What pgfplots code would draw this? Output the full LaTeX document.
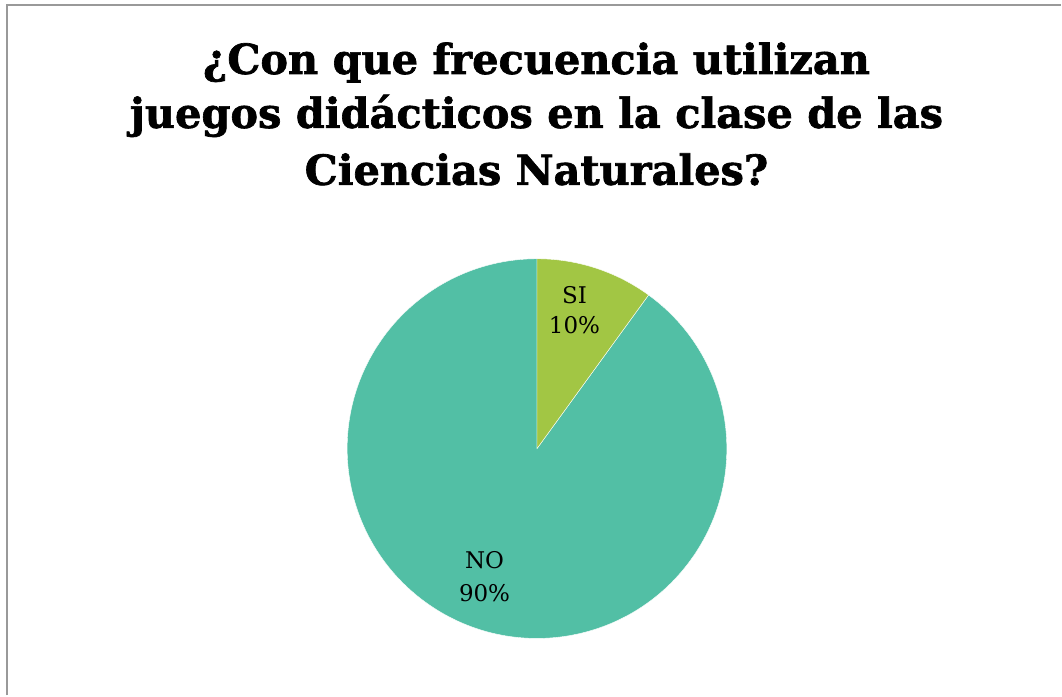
\documentclass[border=0pt]{standalone}
\usepackage{fontspec}
\setmainfont{DejaVu Serif}
\newfontfamily\titlefont[FakeBold=1.6]{DejaVu Serif Bold}
\usepackage{pgfplots}
\usepackage{pgfplotstable}
\pgfplotsset{compat=1.18}
\definecolor{tealpie}{HTML}{52BFA5}
\definecolor{greenpie}{HTML}{A2C644}
\definecolor{framegray}{HTML}{999999}
\pgfplotstableread{
label value
SI 10
NO 90
}\piedata
\pgfplotstablegetelem{0}{value}\of\piedata \let\vSI\pgfplotsretval
\pgfplotstablegetelem{1}{value}\of\piedata \let\vNO\pgfplotsretval
\pgfmathsetmacro{\aSI}{90-3.6*\vSI}
\pgfmathsetmacro{\aNO}{\aSI-3.6*\vNO}
\begin{document}
\begin{tikzpicture}
\begin{axis}[x=1pt,y=1pt,xmin=0,xmax=1062,ymin=0,ymax=696,hide axis,clip=false]
\path (axis cs:0,0) rectangle (axis cs:1062,696);
\draw[framegray,line width=2pt] (axis cs:7,0) -- (axis cs:7,691) -- (axis cs:1062,691);
\fill[tealpie,draw=white,line width=0.4pt] (axis cs:537.5,247) -- ++(\aSI:190pt) arc[start angle=\aSI,end angle=\aNO,radius=190pt] -- cycle;
\fill[greenpie,draw=white,line width=0.4pt] (axis cs:537.5,247) -- ++(90:190pt) arc[start angle=90,end angle=\aSI,radius=190pt] -- cycle;
\node[anchor=base,font=\fontsize{41.5}{48}\titlefont] at (axis cs:537,622) {¿Con que frecuencia utilizan};
\node[anchor=base,font=\fontsize{41.5}{48}\titlefont] at (axis cs:537,568) {juegos didácticos en la clase de las};
\node[anchor=base,font=\fontsize{41.5}{48}\titlefont] at (axis cs:537,511) {Ciencias Naturales?};
\node[anchor=base,font=\fontsize{23}{28}\selectfont] at (axis cs:575,392) {SI};
\node[anchor=base,font=\fontsize{23}{28}\selectfont] at (axis cs:575,362) {\vSI\%};
\node[anchor=base,font=\fontsize{23}{28}\selectfont] at (axis cs:485,127) {NO};
\node[anchor=base,font=\fontsize{23}{28}\selectfont] at (axis cs:485,94) {\vNO\%};
\end{axis}
\end{tikzpicture}
\end{document}
